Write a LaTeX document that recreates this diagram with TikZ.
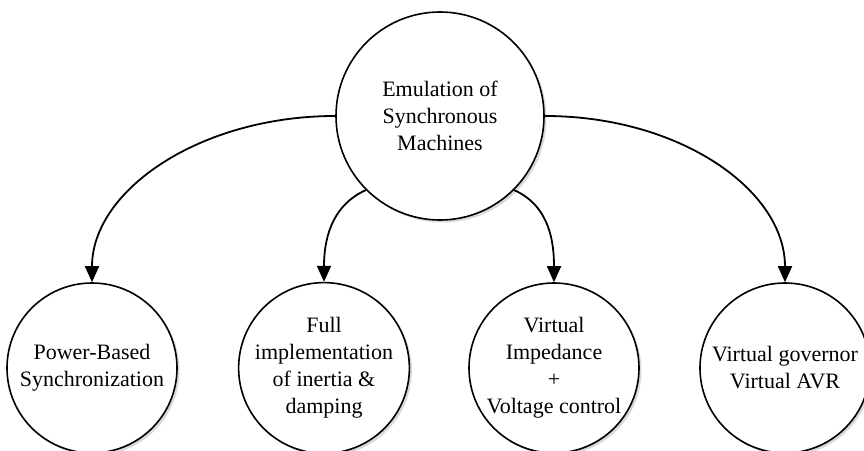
\documentclass[tikz,border=0pt]{standalone}
\usepackage{fontspec}
\setmainfont{Liberation Serif}
\usetikzlibrary{arrows.meta,shadows}

\begin{document}
\begin{tikzpicture}[x=1pt, y=1pt,
  machine/.style={circle, draw, line width=1.6pt, fill=white, align=center, inner sep=0pt,
    font=\fontsize{22}{27}\selectfont,
    drop shadow={shadow xshift=2.5pt, shadow yshift=-2.5pt, opacity=0.3}},
  link/.style={line width=1.8pt, -{Triangle[width=14pt, length=16pt]}}]
\useasboundingbox (0,0) rectangle (864,450);
\node[machine, minimum size=208pt] (esm) at (440,334) {Emulation of\\Synchronous\\Machines};
\node[machine, minimum size=170pt] (pbs) at (92,82) {Power-Based\\Synchronization};
\node[machine, minimum size=170pt] (fid) at (324,82) {Full\\implementation\\of inertia \&\\damping};
\node[machine, minimum size=170pt] (viv) at (554,82) {Virtual\\Impedance\\+\\Voltage control};
\node[machine, minimum size=170pt] (vga) at (785,82) {Virtual governor\\Virtual AVR};
\draw[link] (esm.west) .. controls +(-135,0) and +(0,92) .. (pbs.north);
\draw[link] (esm.225) to[out=204, in=90] (fid.north);
\draw[link] (esm.315) to[out=-24, in=90] (viv.north);
\draw[link] (esm.east) .. controls +(135,0) and +(0,92) .. (vga.north);
\end{tikzpicture}
\end{document}
